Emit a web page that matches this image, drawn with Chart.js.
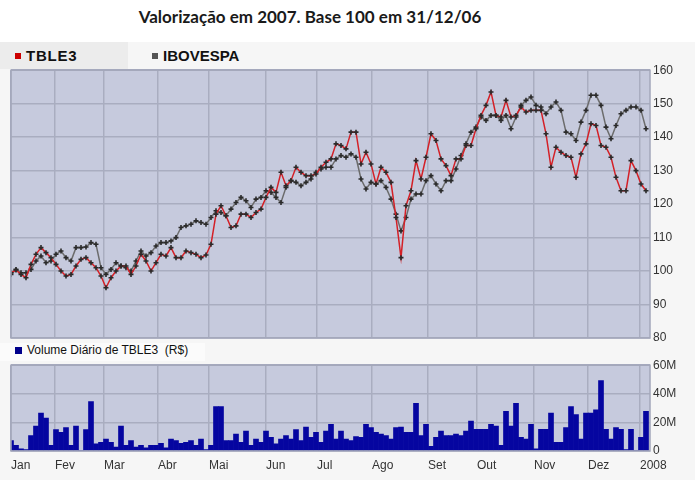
<!DOCTYPE html>
<html>
<head>
<meta charset="utf-8">
<script src="https://cdn.jsdelivr.net/npm/chart.js@4.4.1/dist/chart.umd.min.js"></script>
<style>
  html, body { margin: 0; padding: 0; background: #fff; }
  #wrap { position: relative; width: 695px; height: 480px; overflow: hidden; font-family: "Liberation Sans", Arial, sans-serif; }
  #panel { position: absolute; left: 0; top: 42px; width: 695px; height: 438px; background: #f6f6f6; }
  #legcell { position: absolute; left: 0; top: 42px; width: 128px; height: 27px; background: #ececec; }
  #title { position: absolute; left: 0; width: 620px; top: 6px; text-align: center; font: 700 17px Lato, "Open Sans", sans-serif; color: #1a1a1a; }
  .leg { position: absolute; font-weight: bold; font-size: 15px; color: #111; top: 47px; }
  .sq { display: inline-block; width: 6px; height: 6px; margin-right: 5px; vertical-align: 2px; }
  #volleg { position: absolute; left: 0; top: 343px; width: 205px; height: 18px; background: #fbfbfb; font-size: 12px; color: #111; }
  #volleg span.sq { width: 7px; height: 7px; margin-left: 15px; margin-right: 5px; vertical-align: 0; }
  canvas { position: absolute; left: 0; }
</style>
</head>
<body>
<div id="wrap">
  <div id="panel"></div>
  <div id="legcell"></div>
  <div id="title">Valorização em 2007. Base 100 em 31/12/06</div>
  <div class="leg" style="left:15px"><span class="sq" style="background:#cc0000"></span><span style="letter-spacing:0.8px">TBLE3</span></div>
  <div class="leg" style="left:152px"><span class="sq" style="background:#555"></span>IBOVESPA</div>
  <div id="volleg"><span class="sq" style="background:#00008b"></span>Volume Diário de TBLE3&nbsp; (R$)</div>
  <canvas id="chart-price" width="695" height="290" style="top:60px"></canvas>
  <canvas id="chart-volume" width="695" height="125" style="top:355px"></canvas>
</div>
<script>
// month tick labels and their positions on the sample axis
const months = ["Jan", "Fev", "Mar", "Abr", "Mai", "Jun", "Jul", "Ago", "Set", "Out", "Nov", "Dez", "2008"];
const monthPos = [0, 8.8, 18.6, 29.4, 39.6, 51, 61.2, 72.2, 83.4, 93.2, 104.6, 115.4, 125.8];

// base 100 on 31/12/06
const tble3 = [
  99.5, 100.3, 99, 98, 102, 105, 107, 105.5, 104, 102,
  100, 98.5, 99, 101.5, 103.5, 104, 102.5, 101, 98.5, 95,
  98, 100, 101.5, 101.5, 99, 101.5, 105, 103, 100, 102.5,
  105, 104.5, 107, 104, 104, 106, 105.5, 105, 104, 104.8,
  108, 117, 119.5, 116.5, 113, 113.5, 117, 117, 116, 117.5,
  118.5, 122, 125, 123.5, 129.5, 125.5, 127, 131, 129.5, 128.5,
  128.5, 129, 131, 132.5, 133.5, 138, 137.5, 136.5, 141.5, 141.5,
  132, 135.5, 132, 126, 131, 129.5, 126.5, 116, 104, 119.5,
  124, 133, 127.5, 134, 141, 139, 133.5, 131.5, 128.5, 133.5,
  133.5, 137.5, 137.5, 142.5, 146.5, 149.5, 153.5, 146.5, 146, 151,
  146, 146.5, 149, 147.5, 148, 148, 148, 141, 131, 137,
  135.5, 134.5, 134, 128, 135, 138, 144, 143.5, 137.5, 137,
  134, 128, 124, 124, 133, 130, 126, 124,
];
const ibovespa = [
  99, 100.5, 99.5, 99.5, 100.5, 103, 104.5, 102.5, 103, 105,
  106, 104, 103, 107, 107, 107.2, 108.5, 108, 101, 99,
  100.5, 102.5, 101.5, 101, 100, 103, 106, 104.5, 105.5, 107.5,
  108.5, 108.5, 109, 110, 113, 113.5, 114, 115, 114.5, 114,
  116, 118, 117.5, 116.5, 118.5, 120.5, 122, 121, 119, 121.5,
  122, 124, 123.5, 122, 120.5, 125, 127, 126.5, 125.5, 126.5,
  127.5, 129.5, 130.5, 131, 131, 133.5, 134.5, 134, 135, 134,
  127.5, 124.5, 126.5, 126, 127, 125, 121.5, 117, 112, 116,
  121.5, 123, 123, 127, 128.5, 126, 124, 127, 127, 130.5,
  134.5, 138, 141.5, 143, 146, 145, 146.5, 146.5, 145, 146.5,
  142.5, 146, 149.5, 151, 152, 149.5, 149, 147, 149, 150.5,
  148, 141.5, 141, 139, 144.5, 148, 152.5, 152.5, 149.5, 143,
  139.5, 143.5, 147, 148, 149, 149, 148, 142.5,
];
// daily volume, millions of R$
const volume = [
  7.3, 3.9, 1.6, 1, 10.7, 17.5, 26.6, 23, 3.9, 15,
  13, 16.3, 4, 17.5, 0.5, 15, 34.5, 5, 6, 8.4,
  6, 2.7, 17.5, 3.9, 7.3, 2.7, 3.9, 2.3, 3.9, 3.9,
  5.4, 2.3, 8.4, 7.3, 5.4, 6, 7.3, 3.9, 8.4, 1,
  3.9, 31, 31, 7.3, 7.3, 11.8, 6, 14, 3.9, 8.4,
  6, 14, 9.5, 5, 8.4, 10.7, 8.4, 15, 7.3, 16.8,
  9.5, 13, 6, 14, 18.6, 8.4, 14, 8.4, 7.3, 10,
  9.5, 18.6, 16.3, 13, 11.8, 10.7, 8.4, 16.3, 16.8, 13,
  13, 33.4, 10.7, 18.6, 3.2, 9.5, 14, 10.7, 10.7, 11.8,
  10.7, 14, 20.9, 15.2, 15.2, 15.2, 18.6, 17.5, 3.9, 27.7,
  17.5, 33.4, 9.5, 8.4, 18.6, 1.6, 15.2, 15.2, 26.6, 6,
  6, 16.3, 31, 25.4, 8.4, 26.6, 26.6, 28.8, 49.3, 15.2,
  8.4, 16.3, 15.2, 1, 15.2, 0.5, 9.5, 27.7,
];

const PLOT_BG = "#c6cadd";
const GRID = "#a9adc0";
const FONT = { family: "'Liberation Sans', Arial, sans-serif", size: 12 };
const X_MAX = 127.8;

const plotBg = {
  id: "plotBg",
  beforeDraw(chart) {
    const { ctx, chartArea: a } = chart;
    ctx.save();
    ctx.fillStyle = PLOT_BG;
    ctx.fillRect(a.left, a.top, a.right - a.left, a.bottom - a.top);
    ctx.restore();
  },
  afterDraw(chart) {
    const { ctx, chartArea: a } = chart;
    ctx.save();
    ctx.strokeStyle = "#a3a7ba";
    ctx.lineWidth = 1.5;
    ctx.strokeRect(a.left, a.top, a.right - a.left, a.bottom - a.top);
    ctx.restore();
  },
};

const monthTicks = (s) => { s.ticks = monthPos.map((v) => ({ value: v })); };
const pts = (arr) => arr.map((v, i) => ({ x: i, y: v }));

new Chart(document.getElementById("chart-price"), {
  type: "line",
  data: {
    datasets: [
      {
        label: "TBLE3",
        data: pts(tble3),
        borderColor: "#d42027",
        borderWidth: 1.5,
        pointStyle: "cross",
        pointRadius: 2.5,
        pointBorderWidth: 1.6,
        pointBorderColor: "#2a2a2a",
        tension: 0,
      },
      {
        label: "IBOVESPA",
        data: pts(ibovespa),
        borderColor: "#6c6c6c",
        borderWidth: 1.5,
        pointStyle: "cross",
        pointRadius: 2.5,
        pointBorderWidth: 1.6,
        pointBorderColor: "#2a2a2a",
        tension: 0,
      },
    ],
  },
  options: {
    responsive: false,
    animation: false,
    layout: { padding: { left: 11, top: 10, right: 0, bottom: 12 } },
    plugins: { legend: { display: false }, tooltip: { enabled: false } },
    scales: {
      x: {
        type: "linear", min: 0, max: X_MAX,
        afterBuildTicks: monthTicks,
        afterFit: (s) => { s.height = 0; },
        ticks: { display: false },
        grid: { color: GRID, lineWidth: 1.5, drawTicks: false },
        border: { display: false },
      },
      y: {
        position: "right", min: 80, max: 160,
        afterFit: (s) => { s.width = 45; },
        ticks: { stepSize: 10, color: "#333", font: FONT, padding: 3 },
        grid: { color: GRID, lineWidth: 1.5, drawTicks: false },
        border: { display: false },
      },
    },
  },
  plugins: [plotBg],
});

new Chart(document.getElementById("chart-volume"), {
  type: "bar",
  data: {
    datasets: [{
      label: "Volume Diário de TBLE3 (R$)",
      data: pts(volume),
      backgroundColor: "#0505a0",
      barPercentage: 1,
      categoryPercentage: 1,
    }],
  },
  options: {
    responsive: false,
    animation: false,
    layout: { padding: { left: 11, top: 8, right: 0, bottom: 0 } },
    plugins: { legend: { display: false }, tooltip: { enabled: false } },
    scales: {
      x: {
        type: "linear", min: 0, max: X_MAX, offset: false,
        afterBuildTicks: monthTicks,
        afterFit: (s) => { s.height = 29; },
        ticks: { color: "#333", font: FONT, padding: 7, align: "start", autoSkip: false, maxRotation: 0,
          callback: (v, i) => months[i] },
        grid: { color: GRID, lineWidth: 1.5, drawTicks: false, offset: false },
        border: { display: false },
      },
      y: {
        position: "right", min: 0, max: 60,
        afterFit: (s) => { s.width = 45; },
        ticks: { stepSize: 20, color: "#333", font: FONT, padding: 3,
          callback: (v) => (v === 0 ? "0" : v + "M") },
        grid: { color: GRID, lineWidth: 1.5, drawTicks: false },
        border: { display: false },
      },
    },
  },
  plugins: [plotBg],
});
</script>
</body>
</html>
